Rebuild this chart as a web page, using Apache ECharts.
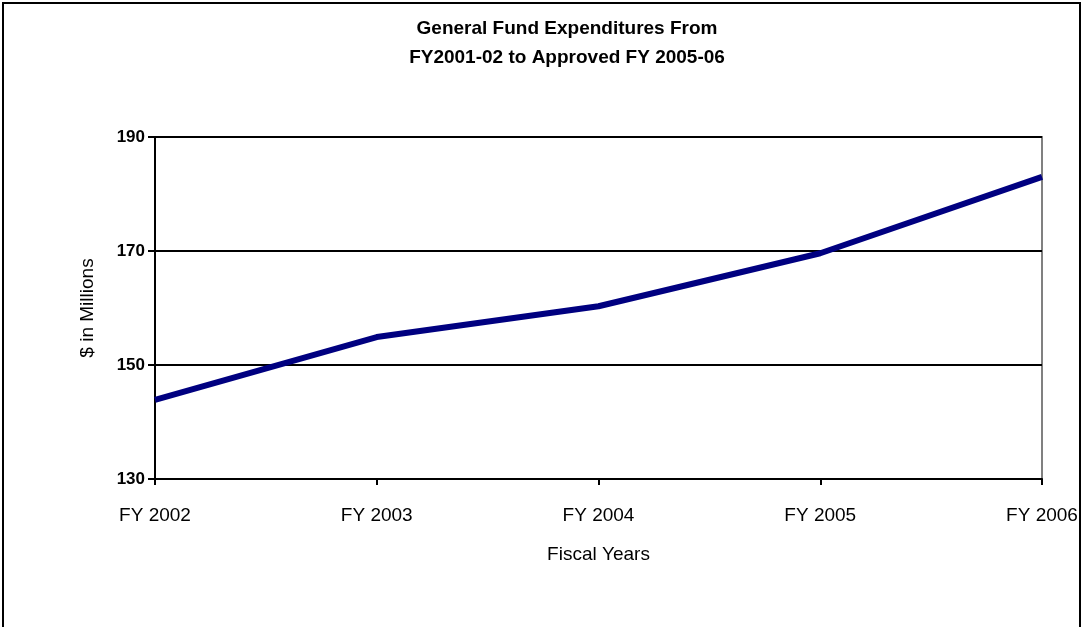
<!DOCTYPE html>
<html><head><meta charset="utf-8">
<script src="https://cdn.jsdelivr.net/npm/echarts@6/dist/echarts.min.js"></script>
<style>html,body{margin:0;padding:0;background:#fff}#c{width:1084px;height:627px}</style>
</head><body><div id="c"></div>
<script>
const categories = ['FY 2002','FY 2003','FY 2004','FY 2005','FY 2006'];
const expenditures = [143.9, 154.9, 160.3, 169.6, 183.0];
const titleLines = ['General Fund Expenditures From','FY2001-02 to Approved FY 2005-06'];
const yName = '$ in Millions';
const xName = 'Fiscal Years';
const FONT = "'Liberation Sans Narrow','Arial Narrow','Liberation Sans',sans-serif";
const chart = echarts.init(document.getElementById('c'));
chart.setOption({
  animation:false,
  backgroundColor:'#fff',
  title:{text:titleLines.join('\n'),left:562,top:9,textAlign:'center',
    textStyle:{fontFamily:FONT,fontSize:19,fontWeight:'bold',color:'#000',lineHeight:29}},
  graphic:[{type:'rect',shape:{x:3,y:3,width:1077,height:640},style:{fill:'none',stroke:'#000',lineWidth:2},silent:true}],
  grid:{left:155,right:42,top:137,bottom:148,show:true,borderColor:'#808080',borderWidth:2,backgroundColor:'#fff'},
  xAxis:{type:'category',data:categories,boundaryGap:false,
    name:xName,nameLocation:'middle',nameGap:66,
    nameTextStyle:{fontFamily:FONT,fontSize:19,color:'#000'},
    axisLine:{lineStyle:{color:'#000',width:2}},
    axisTick:{show:true,alignWithLabel:true,length:6,lineStyle:{color:'#000',width:2}},
    axisLabel:{fontFamily:FONT,fontSize:19,color:'#000',margin:27}},
  yAxis:{type:'value',min:130,max:190,interval:20,
    name:yName,nameLocation:'middle',nameGap:58,nameRotate:90,
    nameTextStyle:{fontFamily:FONT,fontSize:19,color:'#000'},
    axisLine:{show:true,lineStyle:{color:'#000',width:2}},
    axisTick:{show:true,length:7,lineStyle:{color:'#000',width:2}},
    axisLabel:{fontFamily:FONT,fontSize:17,fontWeight:'bold',color:'#000',margin:10},
    splitLine:{show:true,lineStyle:{color:'#000',width:2}}},
  series:[{type:'line',data:expenditures,symbol:'none',
    lineStyle:{color:'#000080',width:6}}]
});
</script></body></html>
